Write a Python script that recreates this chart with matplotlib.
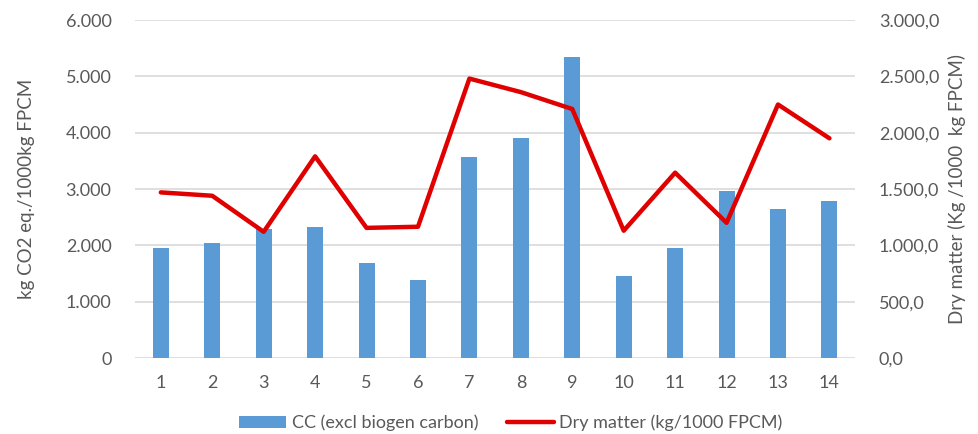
import numpy as np
import matplotlib.pyplot as plt
from matplotlib.ticker import FuncFormatter

# chart data
farms = [str(i) for i in range(1, 15)]
cc_excl_biogen = [1950, 2050, 2290, 2320, 1680, 1380, 3560, 3910, 5340, 1450, 1950, 2970, 2640, 2780]
dry_matter = [1470, 1440, 1120, 1790, 1155, 1165, 2480, 2360, 2210, 1130, 1645, 1200, 2250, 1950]

grey = '#595959'
plt.rcParams['font.family'] = ['Lato', 'DejaVu Sans']

fig = plt.figure(figsize=(9.79, 4.34), dpi=100)
ax = fig.add_axes([0.138, 0.1751, 0.7355, 0.7788])
ax2 = ax.twinx()

x = np.arange(len(farms))
bars = ax.bar(x, cc_excl_biogen, width=0.31, color='#5b9bd5', zorder=2,
              label='CC (excl biogen carbon)')
line, = ax2.plot(x, dry_matter, color='#e00000', lw=3.2, solid_capstyle='round',
                 zorder=3, label='Dry matter (kg/1000 FPCM)')

ax.set_xlim(-0.5, len(farms) - 0.5)
ax.set_ylim(0, 6000)
ax2.set_ylim(0, 3000)
ax.set_yticks(np.arange(0, 6001, 1000))
ax2.set_yticks(np.arange(0, 3001, 500))
ax.set_xticks(x)
ax.set_xticklabels(farms)

def dot_thousands(v, pos):
    return f'{int(v):,}'.replace(',', '.')

def dot_thousands_dec(v, pos):
    s = f'{v:,.1f}'
    return s.replace(',', 'X').replace('.', ',').replace('X', '.')

ax.yaxis.set_major_formatter(FuncFormatter(dot_thousands))
ax2.yaxis.set_major_formatter(FuncFormatter(dot_thousands_dec))

ax.grid(axis='y', color='#d9d9d9', lw=1.2, zorder=0)
ax.set_axisbelow(True)
for a in (ax, ax2):
    for s in a.spines.values():
        s.set_visible(False)
    a.tick_params(length=0, labelsize=13, colors=grey)
ax.tick_params(axis='y', pad=17)
ax.tick_params(axis='x', pad=12)
ax2.tick_params(axis='y', pad=17)

ax.set_ylabel('kg CO2 eq./1000kg FPCM', fontsize=13.5, color=grey, labelpad=22)
ax2.set_ylabel('Dry matter (Kg /1000  kg FPCM)', fontsize=13.5, color=grey, labelpad=6)

fig.legend(handles=[bars, line], loc='center', bbox_to_anchor=(0.522, 0.025),
           ncol=2, frameon=False, fontsize=13, labelcolor=grey,
           handlelength=2.6, handletextpad=0.3, columnspacing=1.6)

fig.savefig('out.png', dpi=100)
